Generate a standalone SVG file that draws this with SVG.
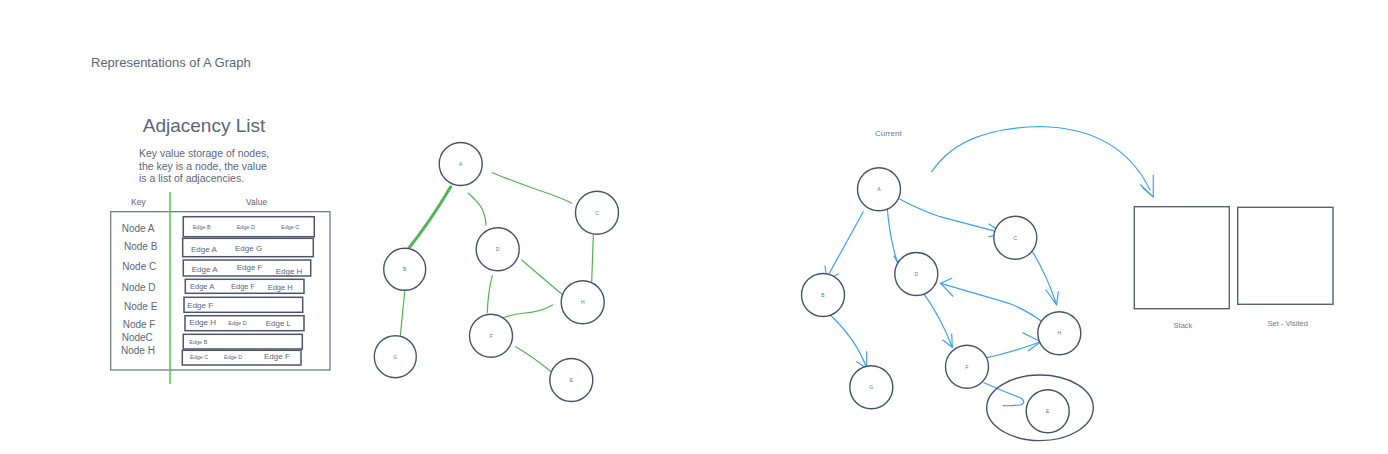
<svg xmlns="http://www.w3.org/2000/svg" width="1388" height="454" viewBox="0 0 1388 454">
<style>
text{font-family:"Liberation Sans",Arial,sans-serif;fill:#5d6579;dominant-baseline:central}
.node circle{fill:#fff;stroke:#4b5168;stroke-width:1.4}
.node text{font-size:5px;text-anchor:middle;fill:#6a7084}
.g{fill:none;stroke:#52b452;stroke-width:1.2;stroke-linecap:round}
.gt{stroke-width:3}
.b{fill:none;stroke:#3f9ff0;stroke-width:1.2;stroke-linecap:round;stroke-linejoin:round}
.row{fill:#fff;stroke:#4e546a;stroke-width:1.5}
.k{font-size:10px}
.e{font-size:8px}
.es{font-size:5.5px}
.em{font-size:7.5px}
.box{fill:#fff;stroke:#5a6072;stroke-width:1.4}
.lbl{fill:#737a8c}
</style>
<rect width="1388" height="454" fill="#fff"/>
<text x="91" y="62" font-size="13">Representations of A Graph</text>

<g id="adjacency-list">
<text x="204" y="125" font-size="19" text-anchor="middle">Adjacency List</text>
<text x="139" y="153" font-size="10.5">Key value storage of nodes,</text>
<text x="139" y="165.5" font-size="10.5">the key is a node, the value</text>
<text x="139" y="178" font-size="10.5">is a list of adjacencies.</text>
<text x="131" y="201.5" font-size="8.5">Key</text>
<text x="246" y="201.5" font-size="8.5">Value</text>
<rect x="110.7" y="211.7" width="219.3" height="158.3" fill="none" stroke="#6a6f80" stroke-width="1.2"/>
<line x1="170" y1="192" x2="170" y2="384" stroke="#5cbf5c" stroke-width="1.5"/>
<text class="k" x="121.7" y="228.3">Node A</text>
<text class="k" x="124" y="246.7">Node B</text>
<text class="k" x="122.3" y="266.7">Node C</text>
<text class="k" x="121.7" y="287.3">Node D</text>
<text class="k" x="124" y="306.7">Node E</text>
<text class="k" x="122.7" y="324.3">Node F</text>
<text class="k" x="121.7" y="337.7">NodeC</text>
<text class="k" x="121" y="350.7">Node H</text>
<rect class="row" x="183.3" y="216.7" width="131" height="20"/>
<text class="es" x="192.7" y="227">Edge B</text>
<text class="es" x="236.7" y="227">Edge D</text>
<text class="es" x="281" y="226.5">Edge C</text>
<rect class="row" x="182.7" y="238.3" width="130.6" height="18.4"/>
<text class="e" x="191" y="249">Edge A</text>
<text class="e" x="235" y="248">Edge G</text>
<rect class="row" x="183.3" y="260" width="127.4" height="16"/>
<text class="e" x="191.7" y="269">Edge A</text>
<text class="e" x="236.7" y="267.7">Edge F</text>
<text class="e" x="275.7" y="271">Edge H</text>
<rect class="row" x="185.3" y="279.3" width="118.7" height="14"/>
<text class="em" x="190" y="286">Edge A</text>
<text class="em" x="231" y="286">Edge F</text>
<text class="em" x="267.7" y="287">Edge H</text>
<rect class="row" x="184" y="297.3" width="118.7" height="15"/>
<text class="e" x="187.3" y="305">Edge F</text>
<rect class="row" x="185" y="315.7" width="119" height="15"/>
<text class="e" x="189.3" y="322.3">Edge H</text>
<text class="es" x="228.3" y="322.8">Edge D</text>
<text class="e" x="265.7" y="323">Edge L</text>
<rect class="row" x="183.3" y="334.3" width="119" height="14.7"/>
<text class="es" x="189.3" y="341.7">Edge B</text>
<rect class="row" x="182.3" y="350.3" width="118.7" height="14.7"/>
<text class="es" x="190" y="357.3">Edge C</text>
<text class="es" x="224" y="357.3">Edge D</text>
<text class="e" x="264" y="356">Edge F</text>
</g>

<g id="connectors">
<!-- left graph -->
<path class="g gt" d="M450.7,186.7 Q430,222 406,251.7"/>
<path class="g" d="M468.3,193.3 Q482,205 484,214 Q486,220 486,225"/>
<path class="g" d="M492.3,172.7 Q515,182 538,190 Q560,197 571.7,203.3"/>
<path class="g" d="M404.7,291.7 Q402,318 400,340"/>
<path class="g" d="M593.3,235 L591.7,281.7"/>
<path class="g" d="M521.7,260 Q545,280 561.7,294"/>
<path class="g" d="M492.3,275.7 Q488,292 487.3,312.7"/>
<path class="g" d="M552.7,305 Q540,312 525,313 Q508,315 500,319"/>
<path class="g" d="M515.7,346.7 Q535,358 551.7,372.3"/>
<!-- right graph -->
<path class="b" d="M931.7,171.7 Q960,128 1040,126.5 Q1120,128 1150,190"/>
<path class="b" d="M1140.7,185 L1153.3,197 L1153.3,175 M1143,188 L1153.3,197"/>
<path class="b" d="M863.3,211.7 Q845,245 826.7,278"/>
<path class="b" d="M825,281 L838,274 M826.7,278 L825,266"/>
<path class="b" d="M887.3,209.3 Q890,240 897.3,262"/>
<path class="b" d="M897.3,262 L894,256 M897.3,262 L903,258"/>
<path class="b" d="M900,199.3 Q920,210 940,216.7 Q975,226 1003.3,233.3"/>
<path class="b" d="M989,224 L1003.3,233.3 L989,236.7"/>
<path class="b" d="M1028.7,246 Q1045,270 1056.7,305"/>
<path class="b" d="M1046,290 L1056.7,305 L1058.3,291.7"/>
<path class="b" d="M1042.3,321.7 Q1020,306 1003.3,301.7 Q970,292 940.7,283.3"/>
<path class="b" d="M951.7,278.3 L940.7,283.3 L952.7,296"/>
<path class="b" d="M920.7,289.3 Q940,315 952.3,347.3"/>
<path class="b" d="M942.7,340 L952.3,347.3 L951.7,334"/>
<path class="b" d="M826.7,311.7 Q856,338 866.7,368.3"/>
<path class="b" d="M856.7,361.7 L866.7,368.3 L866.7,351.7"/>
<path class="b" d="M986.7,357.7 Q1010,353 1040.7,341.7"/>
<path class="b" d="M1022.7,332.7 L1040.7,341.7 L1028.3,350.7"/>
<path class="b" d="M984,382.7 Q1005,392 1021,398 Q1027,403 1020,405 Q1010,406 1003.3,405.7"/>
</g>

<g id="node-A1" class="node"><circle cx="460.7" cy="164" r="21.5"/><text x="460.7" y="164">A</text></g>
<g id="node-B1" class="node"><circle cx="404.7" cy="269.3" r="21"/><text x="404.7" y="269.3">B</text></g>
<g id="node-G1" class="node"><circle cx="395.3" cy="356.7" r="21"/><text x="395.3" y="356.7">G</text></g>
<g id="node-D1" class="node"><circle cx="497.7" cy="249.3" r="21.5"/><text x="497.7" y="249.3">D</text></g>
<g id="node-C1" class="node"><circle cx="597" cy="212.7" r="21.5"/><text x="597" y="212.7">C</text></g>
<g id="node-H1" class="node"><circle cx="582.7" cy="302.3" r="21.5"/><text x="582.7" y="302.3">H</text></g>
<g id="node-F1" class="node"><circle cx="491" cy="335.7" r="21.5"/><text x="491" y="335.7">F</text></g>
<g id="node-E1" class="node"><circle cx="571.3" cy="380" r="21.5"/><text x="571.3" y="380">E</text></g>

<text class="lbl" x="888.3" y="133.3" font-size="8" text-anchor="middle">Current</text>
<g id="visited-ring"><ellipse cx="1040" cy="407.8" rx="53.3" ry="32.8" fill="none" stroke="#4b5168" stroke-width="1.4"/></g>
<g id="node-A2" class="node"><circle cx="879" cy="189.3" r="21.5"/><text x="879" y="189.3">A</text></g>
<g id="node-C2" class="node"><circle cx="1015.3" cy="237.7" r="21.5"/><text x="1015.3" y="237.7">C</text></g>
<g id="node-D2" class="node"><circle cx="916.3" cy="274" r="21.5"/><text x="916.3" y="274">D</text></g>
<g id="node-B2" class="node"><circle cx="823" cy="295" r="21.5"/><text x="823" y="295">B</text></g>
<g id="node-H2" class="node"><circle cx="1059.3" cy="333.3" r="21.5"/><text x="1059.3" y="333.3">H</text></g>
<g id="node-G2" class="node"><circle cx="871.3" cy="387.3" r="21.5"/><text x="871.3" y="387.3">G</text></g>
<g id="node-F2" class="node"><circle cx="967" cy="366.7" r="21.5"/><text x="967" y="366.7">F</text></g>
<g id="node-E2" class="node"><circle cx="1047.7" cy="411.3" r="21.5"/><text x="1047.7" y="411.3">E</text></g>

<g id="stack"><rect class="box" x="1134.3" y="206.7" width="95" height="102"/><text class="lbl" x="1183" y="325" font-size="7.5" text-anchor="middle">Stack</text></g>
<g id="set-visited"><rect class="box" x="1237.7" y="207.3" width="95.3" height="97"/><text class="lbl" x="1287.7" y="323.3" font-size="7.5" text-anchor="middle">Set - Visited</text></g>
</svg>
